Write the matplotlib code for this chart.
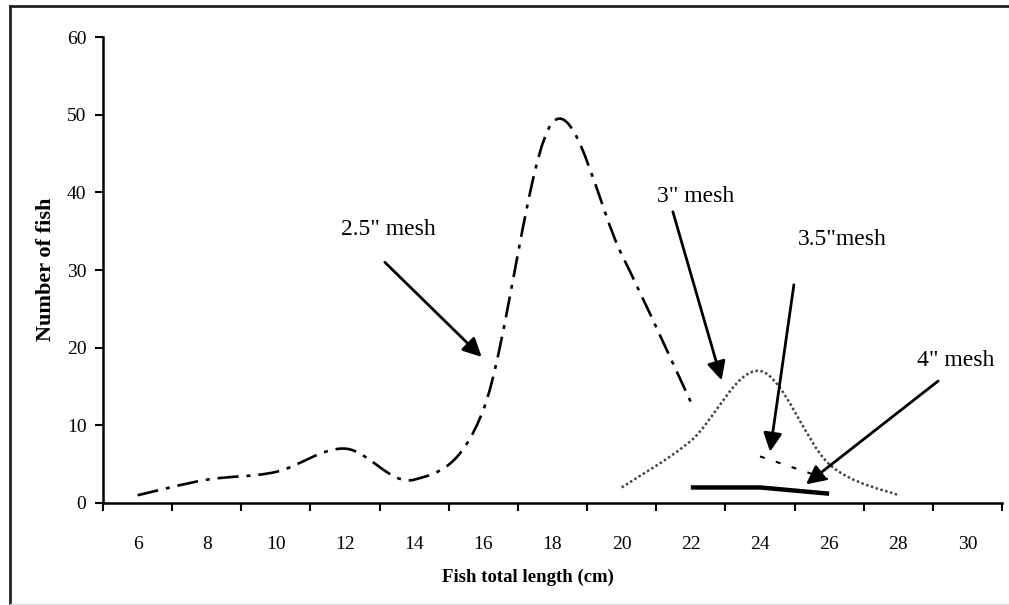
import matplotlib
matplotlib.use("Agg")
import matplotlib.pyplot as plt
from matplotlib.path import Path
from matplotlib.patches import PathPatch
from matplotlib.lines import Line2D

plt.rcParams['font.family'] = ['Liberation Serif', 'DejaVu Serif']

# fish total length (cm) and catch per mesh size
len_25 = [6, 8, 10, 12, 14, 16, 18, 20, 22]
fish_25 = [1, 3, 4, 7, 3, 12, 49, 32, 13]
len_30 = [20, 22, 24, 26, 28]
fish_30 = [2, 8, 17, 5, 1]
len_35 = [24, 26]
fish_35 = [6, 3]
len_40 = [22, 24, 26]
fish_40 = [2, 2, 1.2]

x_labels = [6, 8, 10, 12, 14, 16, 18, 20, 22, 24, 26, 28, 30]
y_ticks = [0, 10, 20, 30, 40, 50, 60]


def smooth_path(xs, ys):
    # Excel-like smoothed line: cubic Bezier segments with Catmull-Rom tangents
    pts = list(zip(xs, ys))
    n = len(pts)
    verts = [pts[0]]
    codes = [Path.MOVETO]
    for i in range(n - 1):
        p0 = pts[max(i - 1, 0)]
        p1 = pts[i]
        p2 = pts[i + 1]
        p3 = pts[min(i + 2, n - 1)]
        c1 = (p1[0] + (p2[0] - p0[0]) / 6, p1[1] + (p2[1] - p0[1]) / 6)
        c2 = (p2[0] - (p3[0] - p1[0]) / 6, p2[1] - (p3[1] - p1[1]) / 6)
        verts += [c1, c2, p2]
        codes += [Path.CURVE4] * 3
    return Path(verts, codes)


fig = plt.figure(figsize=(10.09, 6.05), dpi=100)
ax = fig.add_axes([0.1021, 0.1686, 0.8910, 0.7702])

ax.add_patch(PathPatch(smooth_path(len_25, fish_25), fill=False, color='black',
                       lw=1.9, linestyle=(0, (8, 3, 1.5, 3))))
ax.add_patch(PathPatch(smooth_path(len_30, fish_30), fill=False, color='#444444',
                       lw=1.8, linestyle=(0, (1, 1))))
ax.plot(len_35, fish_35, color='black', lw=1.5, linestyle=(0, (2.4, 5.6)))
ax.plot(len_40, fish_40, color='black', lw=3.2, solid_capstyle='butt')

ax.set_xlim(5, 31)
ax.set_ylim(0, 60)
ax.set_xticks(range(5, 32, 2))
ax.set_xticklabels([])
ax.set_xticks(x_labels, minor=True)
ax.set_xticklabels([str(v) for v in x_labels], minor=True)
ax.set_yticks(y_ticks)
ax.tick_params(axis='x', which='major', direction='out', length=6, width=1.5)
ax.tick_params(axis='x', which='minor', length=0, pad=24, labelsize=14)
ax.tick_params(axis='y', direction='out', length=6, width=1.5, pad=6, labelsize=14)
for s in ['top', 'right']:
    ax.spines[s].set_visible(False)
for s in ['left', 'bottom']:
    ax.spines[s].set_linewidth(1.8)

fig.text(528 / 1009, 1 - 577 / 605, 'Fish total length (cm)', ha='center', va='center',
         fontsize=13.5, fontweight='bold')
fig.text(46 / 1009, 1 - 269 / 605, 'Number of fish', ha='center', va='center',
         rotation=90, fontsize=16, fontweight='bold')

# annotations: label position, arrow tail, arrow tip (data coords)
notes = [
    ('2.5" mesh', (13.24, 35.2), (13.15, 31.0), (15.95, 18.8)),
    ('3" mesh', (22.15, 39.5), (21.48, 37.5), (22.89, 15.8)),
    ('3.5"mesh', (26.37, 33.9), (24.98, 28.1), (24.29, 6.6)),
    ('4" mesh', (29.67, 18.3), (29.15, 15.7), (25.33, 2.4)),
]
for label, txt, tail, tip in notes:
    ax.text(txt[0], txt[1], label, ha='center', va='center', fontsize=17)
    ax.annotate('', xy=tip, xytext=tail,
                arrowprops=dict(arrowstyle='-|>', mutation_scale=28, lw=2,
                                color='black', shrinkA=0, shrinkB=0))

# outer chart frame
fig.add_artist(Line2D([10 / 1009, 10 / 1009], [0, 1 - 6 / 605], color='#222222', lw=2))
fig.add_artist(Line2D([10 / 1009, 1], [1 - 6 / 605, 1 - 6 / 605], color='#222222', lw=2))
fig.add_artist(Line2D([10 / 1009, 1], [1 / 605, 1 / 605], color='#dddddd', lw=1))

fig.savefig('out.png', dpi=100)
